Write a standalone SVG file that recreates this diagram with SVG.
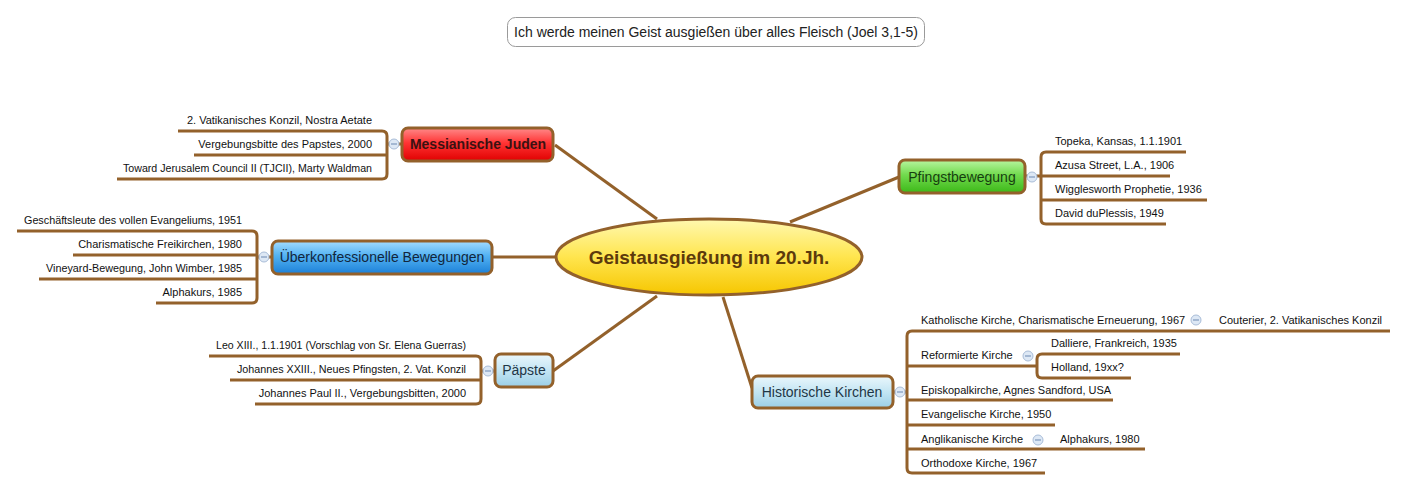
<svg xmlns="http://www.w3.org/2000/svg" width="1409" height="491" viewBox="0 0 1409 491">
<style>
text{font-family:"Liberation Sans",Arial,sans-serif;}
.leaf{font-size:11px;fill:#111;}
.node{font-size:14px;}
.con{fill:none;stroke:#93612b;stroke-width:3;stroke-linecap:butt;}
.box{stroke:#93612b;stroke-width:3;}
.col{fill:#dde8f5;stroke:#a9bdd8;stroke-width:1;}
.minus{stroke:#7f98bd;stroke-width:1.2;}
</style>
<defs>
<linearGradient id="gRed" x1="0" y1="0" x2="0" y2="1"><stop offset="0" stop-color="#ff8a8a"/><stop offset="0.45" stop-color="#ff3434"/><stop offset="1" stop-color="#e00000"/></linearGradient>
<linearGradient id="gBlue" x1="0" y1="0" x2="0" y2="1"><stop offset="0" stop-color="#a4dcff"/><stop offset="0.45" stop-color="#52b2f2"/><stop offset="1" stop-color="#1c80d8"/></linearGradient>
<linearGradient id="gLight" x1="0" y1="0" x2="0" y2="1"><stop offset="0" stop-color="#eaf7fc"/><stop offset="0.55" stop-color="#bfe3f2"/><stop offset="1" stop-color="#9acee6"/></linearGradient>
<linearGradient id="gGreen" x1="0" y1="0" x2="0" y2="1"><stop offset="0" stop-color="#b8f5a0"/><stop offset="0.45" stop-color="#72da4e"/><stop offset="1" stop-color="#3cb818"/></linearGradient>
<linearGradient id="gYellow" x1="0" y1="0" x2="0" y2="1"><stop offset="0" stop-color="#fff8b0"/><stop offset="0.5" stop-color="#ffe54e"/><stop offset="1" stop-color="#f6c600"/></linearGradient>
</defs>
<rect width="1409" height="491" fill="#ffffff"/>

<g id="title">
<rect x="507.5" y="17.5" width="417" height="29" rx="8" fill="#fff" stroke="#9a9a9a" stroke-width="1"/>
<text x="716" y="36.5" text-anchor="middle" font-size="14" fill="#222">Ich werde meinen Geist ausgießen über alles Fleisch (Joel 3,1-5)</text>
</g>

<g id="connectors">
<path class="con" d="M555,145 L657,219"/>
<path class="con" d="M493,257 H560"/>
<path class="con" d="M553,371 L657,296"/>
<path class="con" d="M899,177 L790,222"/>
<path class="con" d="M723,297 L752,388"/>
<path class="con" d="M178,131 H382 Q387,131 387,136 V174 Q387,179 382,179 H117 M194,155 H387 M387,144 H402"/>
<path class="con" d="M17,231 H252 Q257,231 257,236 V298 Q257,303 252,303 H156 M73,255 H257 M39,279 H257 M257,257 H272"/>
<path class="con" d="M209,356 H476 Q481,356 481,361 V399 Q481,404 476,404 H255 M230,380 H481 M481,371 H495"/>
<path class="con" d="M1186,152 H1046 Q1041,152 1041,157 V219 Q1041,224 1046,224 H1166 M1041,176 H1170 M1041,200 H1207 M1025,176 H1041"/>
<path class="con" d="M1390,331 H912 Q907,331 907,336 V468 Q907,473 912,473 H1045 M907,366 H1037 M907,400 H1113 M907,425 H1055 M907,449 H1145 M893,392 H907"/>
<path class="con" d="M1180,354 H1042 Q1037,354 1037,359 V373 Q1037,378 1042,378 H1131"/>
</g>

<g id="center">
<ellipse cx="709" cy="257" rx="153" ry="38" fill="url(#gYellow)" stroke="#93612b" stroke-width="3"/>
<text x="709" y="264" text-anchor="middle" font-size="19" font-weight="bold" fill="#5c3a0c">Geistausgießung im 20.Jh.</text>
</g>

<g id="messianische">
<rect class="box" x="402" y="128" width="151" height="33" rx="6" fill="url(#gRed)"/>
<text class="node" x="478" y="149" text-anchor="middle" font-size="13" font-weight="bold" fill="#3b1212">Messianische Juden</text>
<circle class="col" cx="394" cy="144" r="5"/><path class="minus" d="M391,144 H397"/>
<text class="leaf" x="372" y="124" text-anchor="end">2. Vatikanisches Konzil, Nostra Aetate</text>
<text class="leaf" x="372" y="148" text-anchor="end">Vergebungsbitte des Papstes, 2000</text>
<text class="leaf" x="123" y="172" textLength="249" lengthAdjust="spacingAndGlyphs">Toward Jerusalem Council II (TJCII), Marty Waldman</text>
</g>

<g id="ueberkonfessionelle">
<rect class="box" x="272" y="241" width="220" height="33" rx="6" fill="url(#gBlue)"/>
<text class="node" x="382" y="262" text-anchor="middle" fill="#12263c">Überkonfessionelle Bewegungen</text>
<circle class="col" cx="264" cy="257" r="5"/><path class="minus" d="M261,257 H267"/>
<text class="leaf" x="24" y="224" textLength="218" lengthAdjust="spacingAndGlyphs">Geschäftsleute des vollen Evangeliums, 1951</text>
<text class="leaf" x="242" y="248" text-anchor="end">Charismatische Freikirchen, 1980</text>
<text class="leaf" x="46" y="272" textLength="196" lengthAdjust="spacingAndGlyphs">Vineyard-Bewegung, John Wimber, 1985</text>
<text class="leaf" x="242" y="296" text-anchor="end">Alphakurs, 1985</text>
</g>

<g id="paepste">
<rect class="box" x="495" y="354" width="58" height="33" rx="6" fill="url(#gLight)"/>
<text class="node" x="524" y="375" text-anchor="middle" fill="#1e3646">Päpste</text>
<circle class="col" cx="488" cy="371" r="5"/><path class="minus" d="M485,371 H491"/>
<text class="leaf" x="216" y="349" textLength="250" lengthAdjust="spacingAndGlyphs">Leo XIII., 1.1.1901 (Vorschlag von Sr. Elena Guerras)</text>
<text class="leaf" x="237" y="373" textLength="229" lengthAdjust="spacingAndGlyphs">Johannes XXIII., Neues Pfingsten, 2. Vat. Konzil</text>
<text class="leaf" x="466" y="397" text-anchor="end">Johannes Paul II., Vergebungsbitten, 2000</text>
</g>

<g id="pfingstbewegung">
<rect class="box" x="899" y="160" width="126" height="33" rx="6" fill="url(#gGreen)"/>
<text class="node" x="962" y="182" text-anchor="middle" fill="#173e10">Pfingstbewegung</text>
<circle class="col" cx="1032" cy="177" r="5"/><path class="minus" d="M1029,177 H1035"/>
<text class="leaf" x="1055" y="145">Topeka, Kansas, 1.1.1901</text>
<text class="leaf" x="1055" y="169">Azusa Street, L.A., 1906</text>
<text class="leaf" x="1055" y="193">Wigglesworth Prophetie, 1936</text>
<text class="leaf" x="1055" y="217">David duPlessis, 1949</text>
</g>

<g id="historische">
<rect class="box" x="752" y="376" width="141" height="32" rx="6" fill="url(#gLight)"/>
<text class="node" x="822" y="397" text-anchor="middle" fill="#1e3646">Historische Kirchen</text>
<circle class="col" cx="900" cy="392" r="5"/><path class="minus" d="M897,392 H903"/>
<text class="leaf" x="921" y="324">Katholische Kirche, Charismatische Erneuerung, 1967</text>
<circle class="col" cx="1196" cy="320" r="5"/><path class="minus" d="M1193,320 H1199"/>
<text class="leaf" x="1219" y="324">Couterier, 2. Vatikanisches Konzil</text>
<text class="leaf" x="921" y="359">Reformierte Kirche</text>
<circle class="col" cx="1028" cy="356" r="5"/><path class="minus" d="M1025,356 H1031"/>
<text class="leaf" x="1051" y="347">Dalliere, Frankreich, 1935</text>
<text class="leaf" x="1051" y="371">Holland, 19xx?</text>
<text class="leaf" x="921" y="394">Episkopalkirche, Agnes Sandford, USA</text>
<text class="leaf" x="921" y="418">Evangelische Kirche, 1950</text>
<text class="leaf" x="921" y="443">Anglikanische Kirche</text>
<circle class="col" cx="1038" cy="440" r="5"/><path class="minus" d="M1035,440 H1041"/>
<text class="leaf" x="1060" y="443">Alphakurs, 1980</text>
<text class="leaf" x="921" y="467">Orthodoxe Kirche, 1967</text>
</g>
</svg>
